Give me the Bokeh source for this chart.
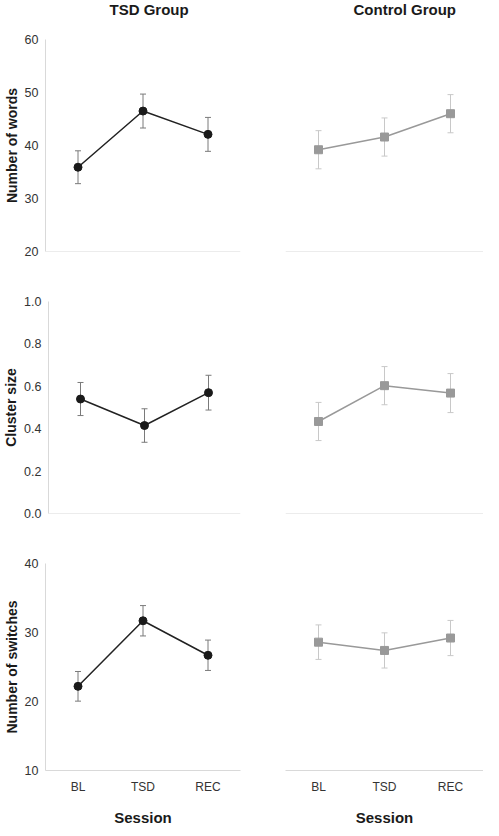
from bokeh.plotting import figure
from bokeh.models import (FactorRange, Range1d, FixedTicker, NumeralTickFormatter,
                          Whisker, ColumnDataSource, TeeHead, Span)
from bokeh.layouts import column, row
from bokeh.embed import file_html
from bokeh.resources import INLINE

sessions = ["BL", "TSD", "REC"]
group_titles = ["TSD Group", "Control Group"]

words_tsd = [35.9, 46.5, 42.1]
words_tsd_err = [3.1, 3.2, 3.2]
words_ctl = [39.2, 41.6, 46.0]
words_ctl_err = [3.6, 3.6, 3.6]

cluster_tsd = [0.54, 0.415, 0.57]
cluster_tsd_err = [0.078, 0.079, 0.082]
cluster_ctl = [0.434, 0.603, 0.568]
cluster_ctl_err = [0.09, 0.09, 0.092]

switch_tsd = [22.2, 31.7, 26.7]
switch_tsd_err = [2.15, 2.2, 2.2]
switch_ctl = [28.6, 27.4, 29.2]
switch_ctl_err = [2.5, 2.55, 2.55]

words_ticks = [20, 30, 40, 50, 60]
cluster_ticks = [0.0, 0.2, 0.4, 0.6, 0.8, 1.0]
switch_ticks = [10, 20, 30, 40]

FONT = "Liberation Sans"
AXIS_COLOR = "#d9d9d9"
FRAME_H = 212
TITLE_H = 23


def col_geom(left_col):
    return (41, 199, 22) if left_col else (23, 198, 0)


def title_fig(text, left_col):
    bl, fw, br = col_geom(left_col)
    p = figure(width=bl + fw + br, height=TITLE_H,
               min_border_left=bl, min_border_right=br,
               min_border_top=0, min_border_bottom=0,
               x_axis_location=None, y_axis_location=None,
               output_backend="svg", toolbar_location=None, tools="")
    p.outline_line_color = None
    p.grid.visible = False
    p.title.text = text
    p.title.align = "left"
    p.title.offset = 68
    p.title.vertical_align = "top"
    p.title.standoff = 0
    p.title.text_font = FONT
    p.title.text_font_size = "15px"
    p.title.text_font_style = "bold"
    p.title.text_color = "#1a1a1a"
    return p


def panel(vals, errs, group, ticks, fmt, ylabel, row_idx):
    left_col = group == "tsd"
    top = {0: 39 - TITLE_H, 1: 25, 2: 25}[row_idx]
    bottom = 53 if row_idx == 2 else 25
    bl, fw, br = col_geom(left_col)
    p = figure(x_range=FactorRange(*sessions), y_range=Range1d(ticks[0], ticks[-1]),
               width=bl + fw + br, height=top + FRAME_H + bottom,
               min_border_left=bl, min_border_right=br,
               min_border_top=top, min_border_bottom=bottom,
               output_backend="svg", toolbar_location=None, tools="")
    p.outline_line_color = None
    p.grid.visible = False
    p.background_fill_color = "white"
    p.border_fill_color = "white"

    ya = p.yaxis[0]
    if left_col:
        ya.ticker = FixedTicker(ticks=ticks)
        ya.formatter = NumeralTickFormatter(format=fmt)
        ya.axis_line_color = AXIS_COLOR
        ya.major_tick_line_color = None
        ya.minor_tick_line_color = None
        ya.major_tick_out = 0
        ya.major_tick_in = 0
        ya.minor_tick_out = 0
        ya.minor_tick_in = 0
        ya.major_label_text_font = FONT
        ya.major_label_text_font_size = "12.5px"
        ya.major_label_text_color = "#333333"
        ya.major_label_standoff = 7
        ya.axis_label = ylabel
        ya.axis_label_text_font = FONT
        ya.axis_label_text_font_size = "14px"
        ya.axis_label_text_font_style = "bold"
        ya.axis_label_text_color = "#1a1a1a"
        ya.axis_label_standoff = 2
    else:
        ya.visible = False

    xa = p.xaxis[0]
    if row_idx == 2:
        xa.axis_line_color = AXIS_COLOR
        xa.major_tick_line_color = None
        xa.minor_tick_line_color = None
        xa.major_tick_out = 0
        xa.major_tick_in = 0
        xa.major_label_text_font = FONT
        xa.major_label_text_color = "#333333"
        xa.major_label_text_font_size = "12px"
        xa.major_label_standoff = 9
        xa.axis_label = "Session"
        xa.axis_label_text_font = FONT
        xa.axis_label_text_font_size = "15px"
        xa.axis_label_text_font_style = "bold"
        xa.axis_label_text_color = "#1a1a1a"
        xa.axis_label_standoff = 12
    else:
        xa.visible = False
        p.add_layout(Span(location=ticks[0], dimension="width",
                          line_color=AXIS_COLOR, line_width=1))

    src = ColumnDataSource(dict(
        x=sessions, y=vals,
        upper=[v + e for v, e in zip(vals, errs)],
        lower=[v - e for v, e in zip(vals, errs)],
    ))
    if left_col:
        wc, lc, mc = "#7a7a7a", "#222222", "#1a1a1a"
    else:
        wc, lc, mc = "#c8c8c8", "#999999", "#999999"
    w = Whisker(source=src, base="x", upper="upper", lower="lower",
                line_color=wc, line_width=1,
                upper_head=TeeHead(size=6, line_color=wc, line_width=1),
                lower_head=TeeHead(size=6, line_color=wc, line_width=1))
    p.add_layout(w)
    p.line("x", "y", source=src, line_color=lc, line_width=1.5)
    if left_col:
        p.scatter("x", "y", source=src, marker="circle", size=8,
                  fill_color=mc, line_color=mc)
    else:
        p.scatter("x", "y", source=src, marker="square", size=8,
                  fill_color=mc, line_color=mc)
    return p


t1 = title_fig(group_titles[0], True)
t2 = title_fig(group_titles[1], False)
p1 = panel(words_tsd, words_tsd_err, "tsd", words_ticks, "0", "Number of words", 0)
p2 = panel(words_ctl, words_ctl_err, "ctl", words_ticks, "0", "Number of words", 0)
p3 = panel(cluster_tsd, cluster_tsd_err, "tsd", cluster_ticks, "0.0", "Cluster size", 1)
p4 = panel(cluster_ctl, cluster_ctl_err, "ctl", cluster_ticks, "0.0", "Cluster size", 1)
p5 = panel(switch_tsd, switch_tsd_err, "tsd", switch_ticks, "0", "Number of switches", 2)
p6 = panel(switch_ctl, switch_ctl_err, "ctl", switch_ticks, "0", "Number of switches", 2)

layout = column(row(t1, t2), row(p1, p2), row(p3, p4), row(p5, p6))

open("out.html", "w").write(file_html(layout, INLINE))
